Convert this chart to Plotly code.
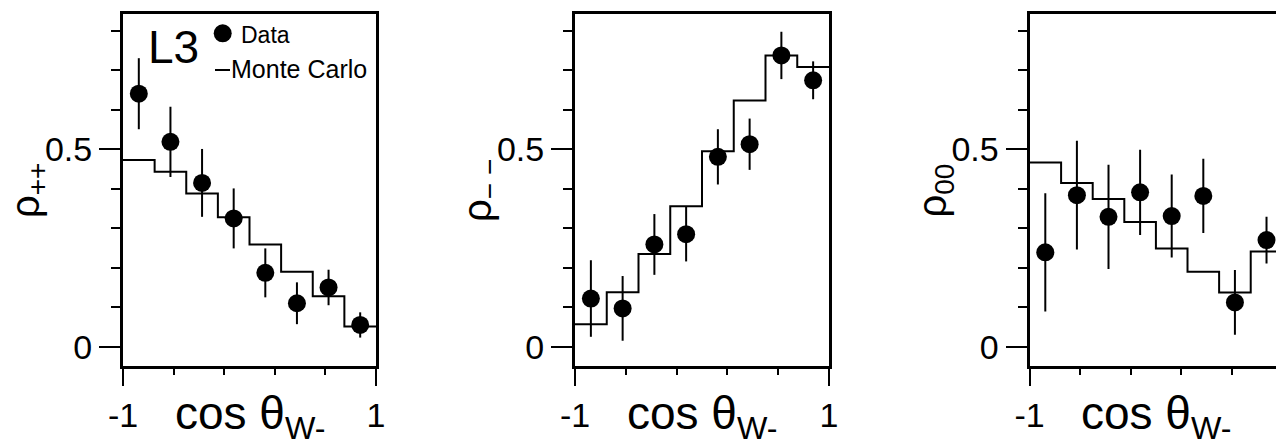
import plotly.graph_objects as go

# ---------------- data ----------------
bin_edges = [-1.0, -0.75, -0.5, -0.25, 0.0, 0.25, 0.5, 0.75, 1.0]
bin_centers = [-0.875, -0.625, -0.375, -0.125, 0.125, 0.375, 0.625, 0.875]

rho_pp = [0.641, 0.519, 0.415, 0.325, 0.187, 0.110, 0.150, 0.055]
rho_pp_err = [0.090, 0.089, 0.086, 0.076, 0.062, 0.053, 0.045, 0.032]
mc_pp = [0.473, 0.443, 0.388, 0.328, 0.259, 0.190, 0.128, 0.051]

rho_mm = [0.122, 0.097, 0.259, 0.285, 0.481, 0.513, 0.738, 0.675]
rho_mm_err = [0.097, 0.082, 0.077, 0.069, 0.070, 0.065, 0.060, 0.048]
mc_mm = [0.057, 0.138, 0.235, 0.356, 0.495, 0.624, 0.738, 0.709]

rho_00 = [0.239, 0.384, 0.329, 0.391, 0.331, 0.382, 0.112, 0.270]
rho_00_err = [0.150, 0.138, 0.132, 0.108, 0.105, 0.094, 0.082, 0.059]
mc_00 = [0.467, 0.415, 0.374, 0.316, 0.249, 0.190, 0.137, 0.241]

y_titles = ["ρ<sub>++</sub>", "ρ<sub>− −</sub>", "ρ<sub>00</sub>"]
x_title = "cos θ<sub>W-</sub>"
y_tick_vals = [0, 0.5]
y_tick_text = ["0", "0.5"]
y_minor_vals = [0.1, 0.2, 0.3, 0.4, 0.6, 0.7, 0.8]
x_tick_vals = [-1, 1]
x_tick_text = ["-1", "1"]
x_minor_vals = [-0.6, -0.2, 0.2, 0.6]

# ---------------- layout geometry (pixels) ----------------
W, H = 1276, 443
FONT = "Liberation Sans, Arial, Helvetica, sans-serif"
panel_px = [(123, 376), (575, 829), (1029.5, 1276)]
x_ranges = [[-1, 1], [-1, 1], [-1, 0.95]]
y_px = (14, 366)
y_range = [-0.049, 0.843]

def px_x(p):
    return p / W

def px_y(p):
    return 1 - p / H

fig = go.Figure()

series = [(rho_pp, rho_pp_err, mc_pp), (rho_mm, rho_mm_err, mc_mm), (rho_00, rho_00_err, mc_00)]

for i, (dat, err, mc) in enumerate(series):
    xa = "x" if i == 0 else f"x{i+1}"
    ya = "y" if i == 0 else f"y{i+1}"
    fig.add_trace(go.Scatter(
        x=bin_edges, y=mc + [mc[-1]], mode="lines", line_shape="hv",
        line=dict(color="black", width=2), xaxis=xa, yaxis=ya,
        showlegend=False, name="Monte Carlo"))
    fig.add_trace(go.Scatter(
        x=bin_centers, y=dat, mode="markers",
        marker=dict(color="black", size=18, line=dict(width=0)),
        error_y=dict(type="data", array=err, visible=True, thickness=2,
                     width=0, color="black"),
        xaxis=xa, yaxis=ya, showlegend=False, name="Data"))

layout = dict(
    template="none",
    width=W, height=H, margin=dict(l=0, r=0, t=0, b=0, autoexpand=False),
    paper_bgcolor="white", plot_bgcolor="white", showlegend=False,
    font=dict(family=FONT, color="black"),
)

for i in range(3):
    sx = "xaxis" if i == 0 else f"xaxis{i+1}"
    sy = "yaxis" if i == 0 else f"yaxis{i+1}"
    anchor_y = "y" if i == 0 else f"y{i+1}"
    anchor_x = "x" if i == 0 else f"x{i+1}"
    layout[sx] = dict(
        domain=[px_x(panel_px[i][0]), px_x(panel_px[i][1])],
        range=x_ranges[i], anchor=anchor_y, automargin=False,
        showline=True, linewidth=3, linecolor="black", mirror=True,
        ticks="outside", tickvals=x_tick_vals, ticktext=x_tick_text,
        ticklen=17, tickwidth=2, tickcolor="black",
        minor=dict(tickvals=x_minor_vals, ticks="outside", ticklen=6,
                   tickwidth=2, tickcolor="black", showgrid=False),
        showgrid=False, zeroline=False,
        tickfont=dict(size=34, family=FONT, color="black"),
    )
    layout[sy] = dict(
        domain=[px_y(y_px[1]), px_y(y_px[0])],
        range=y_range, anchor=anchor_x, automargin=False,
        showline=True, linewidth=3, linecolor="black", mirror=(i < 2),
        ticks="outside", tickvals=y_tick_vals, ticktext=y_tick_text,
        ticklen=21, tickwidth=2, tickcolor="black",
        minor=dict(tickvals=y_minor_vals, ticks="outside", ticklen=9,
                   tickwidth=2, tickcolor="black", showgrid=False),
        showgrid=False, zeroline=False,
        tickfont=dict(size=34, family=FONT, color="black"),
    )

annotations = []
shapes = []
for i in range(3):
    left, right = panel_px[i]
    full_right = left + 253
    cx = (left + full_right) / 2
    annotations.append(dict(
        text=x_title, xref="paper", yref="paper",
        x=px_x(cx), y=px_y(416), xanchor="center", yanchor="middle",
        showarrow=False, font=dict(size=46, family=FONT, color="black")))
    annotations.append(dict(
        text=y_titles[i], xref="paper", yref="paper", textangle=-90,
        x=px_x(left - 95), y=px_y(191), xanchor="center", yanchor="middle",
        showarrow=False, font=dict(size=40, family=FONT, color="black")))

# panel-1 labels and legend
annotations.append(dict(
    text="L3", xref="paper", yref="paper", x=px_x(146), y=px_y(47),
    xanchor="left", yanchor="middle", showarrow=False,
    font=dict(size=46, family=FONT, color="black")))
annotations.append(dict(
    text="Data", xref="paper", yref="paper", x=px_x(239), y=px_y(35),
    xanchor="left", yanchor="middle", showarrow=False,
    font=dict(size=23, family=FONT, color="black")))
annotations.append(dict(
    text="Monte Carlo", xref="paper", yref="paper", x=px_x(229), y=px_y(69),
    xanchor="left", yanchor="middle", showarrow=False,
    font=dict(size=25, family=FONT, color="black")))

shapes.append(dict(
    type="circle", xref="paper", yref="paper",
    x0=px_x(222.7 - 9), x1=px_x(222.7 + 9), y0=px_y(33.3 + 9), y1=px_y(33.3 - 9),
    fillcolor="black", line=dict(width=0)))
shapes.append(dict(
    type="line", xref="paper", yref="paper",
    x0=px_x(215), x1=px_x(230), y0=px_y(70), y1=px_y(70),
    line=dict(color="black", width=2)))

layout["annotations"] = annotations
layout["shapes"] = shapes

fig.update_layout(**layout)
fig.write_html("out.html")
